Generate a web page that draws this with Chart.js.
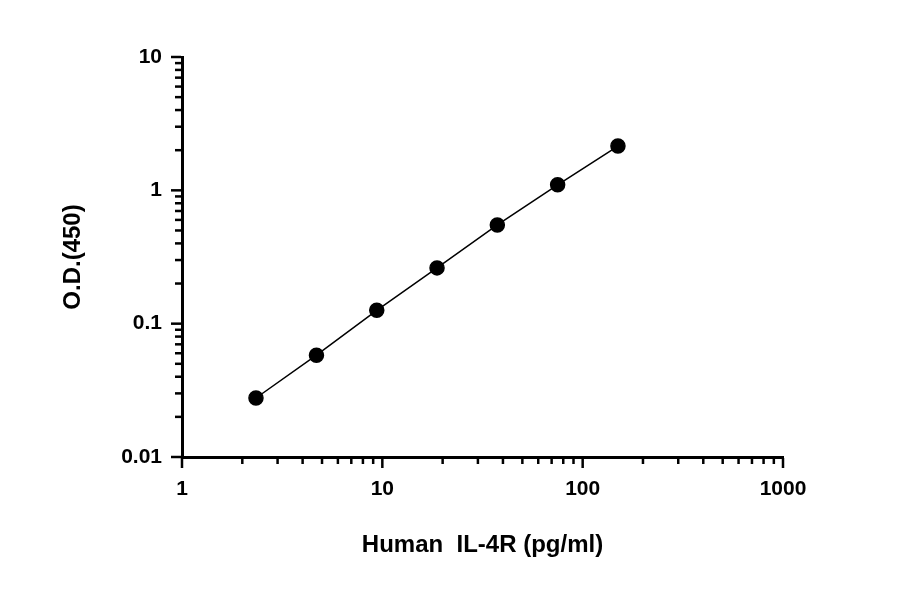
<!DOCTYPE html>
<html><head><meta charset="utf-8">
<script src="https://cdn.jsdelivr.net/npm/chart.js@4/dist/chart.umd.min.js"></script>
<style>html,body{margin:0;background:#fff}#w{width:900px;height:594px}</style>
</head><body><div id="w"><canvas id="c"></canvas></div>
<script>
const concentrations = [2.34, 4.69, 9.38, 18.75, 37.5, 75, 150];
const odValues = [0.0277, 0.058, 0.126, 0.262, 0.55, 1.10, 2.15];
const xMajor = [1, 10, 100, 1000];
const yMajor = [0.01, 0.1, 1, 10];
const xLabels = ['1', '10', '100', '1000'];
const yLabels = ['0.01', '0.1', '1', '10'];

function minors(majors){const r=[];for(let i=0;i<majors.length-1;i++)for(let k=2;k<=9;k++)r.push(majors[i]*k);return r;}

const tickPlugin = {
  id:'ticks',
  afterDraw(ch){
    const c=ch.ctx, xs=ch.scales.x, ys=ch.scales.y, ca=ch.chartArea;
    c.save();c.strokeStyle='#000';c.lineWidth=2.5;
    const xb=ca.bottom+1, yl=ca.left-1;
    xMajor.forEach(v=>{const p=xs.getPixelForValue(v);c.beginPath();c.moveTo(p,xb);c.lineTo(p,xb+10);c.stroke();});
    minors(xMajor).forEach(v=>{const p=xs.getPixelForValue(v);c.beginPath();c.moveTo(p,xb);c.lineTo(p,xb+6);c.stroke();});
    yMajor.forEach(v=>{const p=ys.getPixelForValue(v);c.beginPath();c.moveTo(yl,p);c.lineTo(yl-10,p);c.stroke();});
    minors(yMajor).forEach(v=>{const p=ys.getPixelForValue(v);c.beginPath();c.moveTo(yl,p);c.lineTo(yl-6,p);c.stroke();});
    c.restore();
  }
};

new Chart(document.getElementById('c'),{
  type:'scatter',
  data:{datasets:[{
    data:concentrations.map((x,i)=>({x,y:odValues[i]})),
    showLine:true,borderColor:'#000',borderWidth:1.5,
    pointRadius:7,pointHoverRadius:7,pointBackgroundColor:'#000',pointBorderColor:'#000'
  }]},
  options:{
    responsive:true,maintainAspectRatio:false,animation:false,
    layout:{padding:{left:55,right:117,top:57,bottom:30}},
    plugins:{legend:{display:false},tooltip:{enabled:false}},
    scales:{
      x:{type:'logarithmic',min:1,max:1000,
        afterBuildTicks:s=>{s.ticks=xMajor.map(v=>({value:v}));},
        afterFit:s=>{s.height=107;},
        grid:{display:false,drawTicks:false},
        border:{color:'#000',width:3},
        ticks:{padding:20,color:'#000',font:{family:'Liberation Sans',size:21,weight:'bold'},
          callback:(v)=>xLabels[xMajor.indexOf(v)] ?? ''},
        title:{display:true,text:'Human  IL-4R (pg/ml)',color:'#000',padding:{top:10},
          font:{family:'Liberation Sans',size:24,weight:'bold'}}
      },
      y:{type:'logarithmic',min:0.01,max:10,
        afterBuildTicks:s=>{s.ticks=yMajor.map(v=>({value:v}));},
        afterFit:s=>{s.width=127;},
        grid:{display:false,drawTicks:false},
        border:{color:'#000',width:3},
        ticks:{padding:20,color:'#000',font:{family:'Liberation Sans',size:21,weight:'bold'},
          callback:(v)=>yLabels[yMajor.indexOf(v)] ?? ''},
        title:{display:true,text:'O.D.(450)',color:'#000',padding:{bottom:10},
          font:{family:'Liberation Sans',size:24,weight:'bold'}}
      }
    }
  },
  plugins:[tickPlugin]
});
</script></body></html>
